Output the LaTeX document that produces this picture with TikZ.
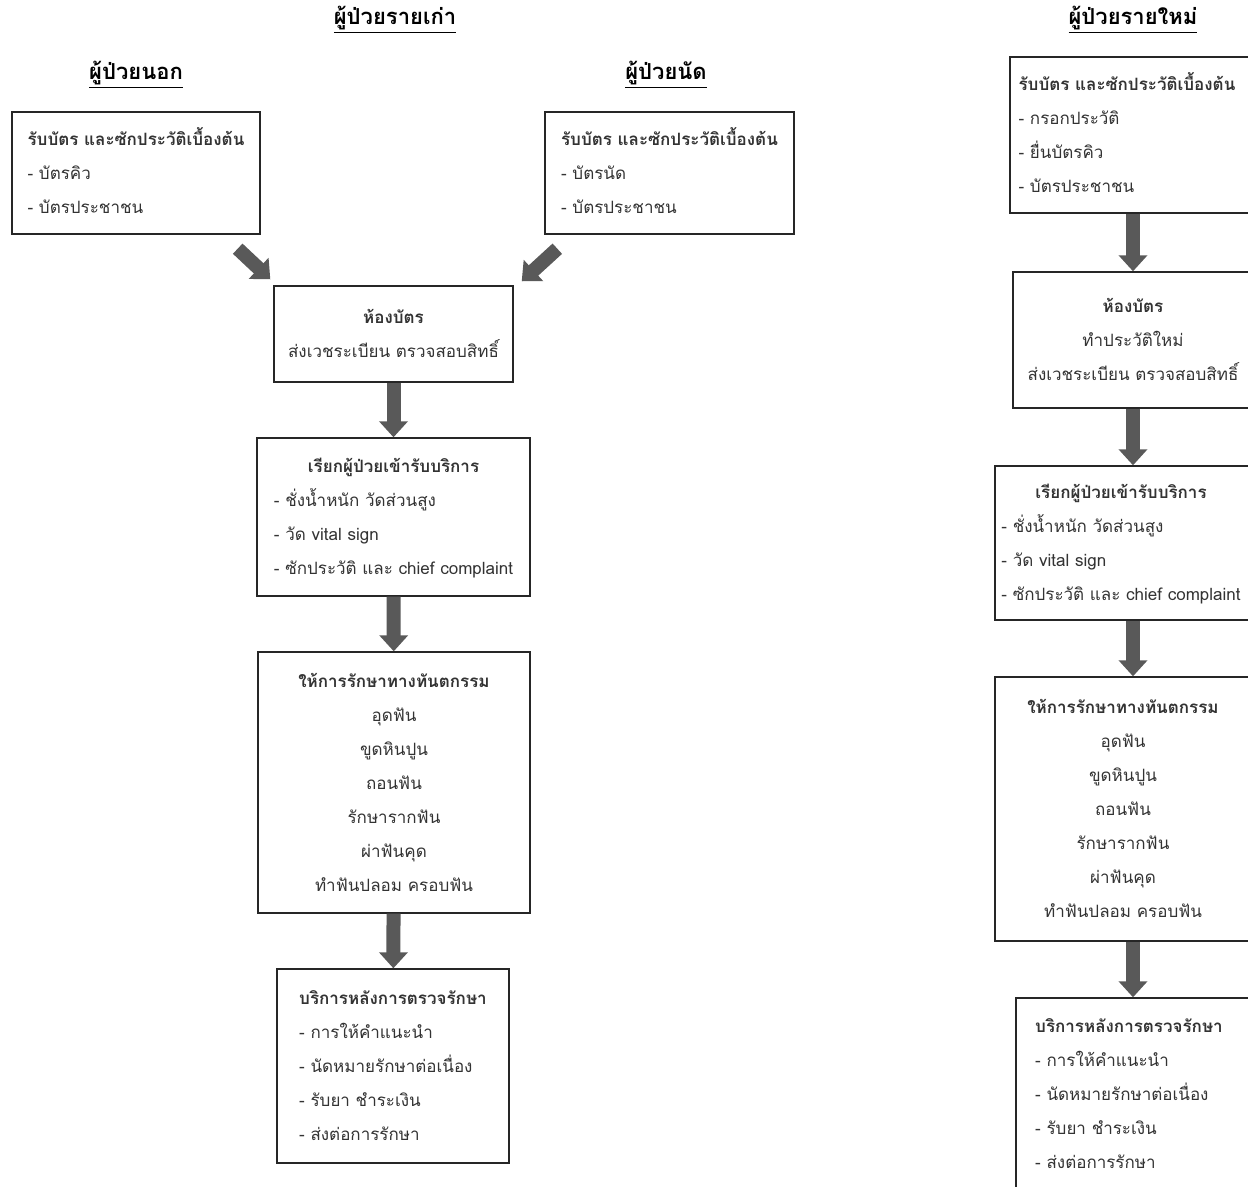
\documentclass[tikz,border=0pt]{standalone}
\usepackage{fontspec}
\setmainfont[Script=Thai]{Loma}
\usetikzlibrary{arrows.meta}
\definecolor{arrowgray}{HTML}{595959}
\definecolor{boxline}{HTML}{262626}
\definecolor{bodytext}{HTML}{333333}

\begin{document}
\begin{tikzpicture}[x=0.5pt, y=-0.5pt,
    every node/.style={font=\fontsize{8.5}{17}\selectfont, text=bodytext},
    head/.style={font=\fontsize{11}{14}\selectfont\bfseries, text=black},
    box/.style={draw=boxline, line width=0.7pt, fill=white, inner sep=0pt},
    bigarrow/.style={draw=arrowgray, line width=7pt, -{Triangle[width=14pt, length=8pt]}, arrowgray}]
  \useasboundingbox (0,0) rectangle (1248,1187);
  \clip (0,0) rectangle (1248,1187);

  % titles
  \node[head] (oldpt) at (395,20) {\underline{ผู้ป่วยรายเก่า}};
  \node[head] (outpt) at (136,75) {\underline{ผู้ป่วยนอก}};
  \node[head] (apptpt) at (666,75) {\underline{ผู้ป่วยนัด}};
  \node[head] (newpt) at (1133,20) {\underline{ผู้ป่วยรายใหม่}};

  % old patients
  \node[box, minimum width=124pt, minimum height=61pt] (card1) at (136,173)
    {\begin{tabular}{@{}l@{}}\textbf{รับบัตร และซักประวัติเบื้องต้น}\\- บัตรคิว\\- บัตรประชาชน\end{tabular}};
  \node[box, minimum width=124.5pt, minimum height=61pt] (card2) at (669.5,173)
    {\begin{tabular}{@{}l@{}}\textbf{รับบัตร และซักประวัติเบื้องต้น}\\- บัตรนัด\\- บัตรประชาชน\end{tabular}};
  \node[box, minimum width=119.5pt, minimum height=48pt] (room) at (393.5,334)
    {\begin{tabular}{@{}c@{}}\textbf{ห้องบัตร}\\ส่งเวชระเบียน ตรวจสอบสิทธิ์\end{tabular}};
  \node[box, minimum width=136.5pt, minimum height=79pt] (call) at (393.5,517)
    {\begin{tabular}{@{}l@{}}\multicolumn{1}{@{}c@{}}{\textbf{เรียกผู้ป่วยเข้ารับบริการ}}\\- ชั่งน้ำหนัก วัดส่วนสูง\\- วัด vital sign\\- ซักประวัติ และ chief complaint\end{tabular}};
  \node[box, minimum width=136pt, minimum height=130.5pt] (treat) at (394,782.5)
    {\begin{tabular}{@{}c@{}}\textbf{ให้การรักษาทางทันตกรรม}\\อุดฟัน\\ขูดหินปูน\\ถอนฟัน\\รักษารากฟัน\\ผ่าฟันคุด\\ทำฟันปลอม ครอบฟัน\end{tabular}};
  \node[box, minimum width=116pt, minimum height=97pt] (after) at (393,1066)
    {\begin{tabular}{@{}l@{}}\multicolumn{1}{@{}c@{}}{\textbf{บริการหลังการตรวจรักษา}}\\- การให้คำแนะนำ\\- นัดหมายรักษาต่อเนื่อง\\- รับยา ชำระเงิน\\- ส่งต่อการรักษา\end{tabular}};

  % new patients
  \node[box, minimum width=123pt, minimum height=78pt] (ncard) at (1133,135)
    {\begin{tabular}{@{}l@{}}\textbf{รับบัตร และซักประวัติเบื้องต้น}\\- กรอกประวัติ\\- ยื่นบัตรคิว\\- บัตรประชาชน\end{tabular}\hspace*{6pt}};
  \node[box, minimum width=120pt, minimum height=68pt] (nroom) at (1133,340)
    {\begin{tabular}{@{}c@{}}\textbf{ห้องบัตร}\\ทำประวัติใหม่\\ส่งเวชระเบียน ตรวจสอบสิทธิ์\end{tabular}};
  \node[box, minimum width=138pt, minimum height=77pt] (ncall) at (1133,543)
    {\begin{tabular}{@{}l@{}}\multicolumn{1}{@{}c@{}}{\textbf{เรียกผู้ป่วยเข้ารับบริการ}}\\- ชั่งน้ำหนัก วัดส่วนสูง\\- วัด vital sign\\- ซักประวัติ และ chief complaint\end{tabular}\hspace*{12pt}};
  \node[box, minimum width=138pt, minimum height=132pt] (ntreat) at (1133,809)
    {\begin{tabular}{@{}c@{}}\textbf{ให้การรักษาทางทันตกรรม}\\อุดฟัน\\ขูดหินปูน\\ถอนฟัน\\รักษารากฟัน\\ผ่าฟันคุด\\ทำฟันปลอม ครอบฟัน\end{tabular}\hspace*{10pt}};
  \node[box, minimum width=117pt, minimum height=96pt] (nafter) at (1133,1094)
    {\begin{tabular}{@{}l@{}}\multicolumn{1}{@{}c@{}}{\textbf{บริการหลังการตรวจรักษา}}\\- การให้คำแนะนำ\\- นัดหมายรักษาต่อเนื่อง\\- รับยา ชำระเงิน\\- ส่งต่อการรักษา\end{tabular}\hspace*{4pt}};

  % arrows
  \draw[bigarrow] ([xshift=-11.5pt, yshift=-7pt]card1.south east) -- ([xshift=-1.5pt, yshift=3pt]room.north west);
  \draw[bigarrow] ([xshift=6.5pt, yshift=-7pt]card2.south west) -- ([xshift=4pt, yshift=2pt]room.north east);
  \draw[bigarrow] (room) -- (call);
  \draw[bigarrow] (call) -- (treat);
  \draw[bigarrow] (treat) -- (after);
  \draw[bigarrow] (ncard) -- (nroom);
  \draw[bigarrow] (nroom) -- (ncall);
  \draw[bigarrow] (ncall) -- (ntreat);
  \draw[bigarrow] (ntreat) -- (nafter);
\end{tikzpicture}
\end{document}
